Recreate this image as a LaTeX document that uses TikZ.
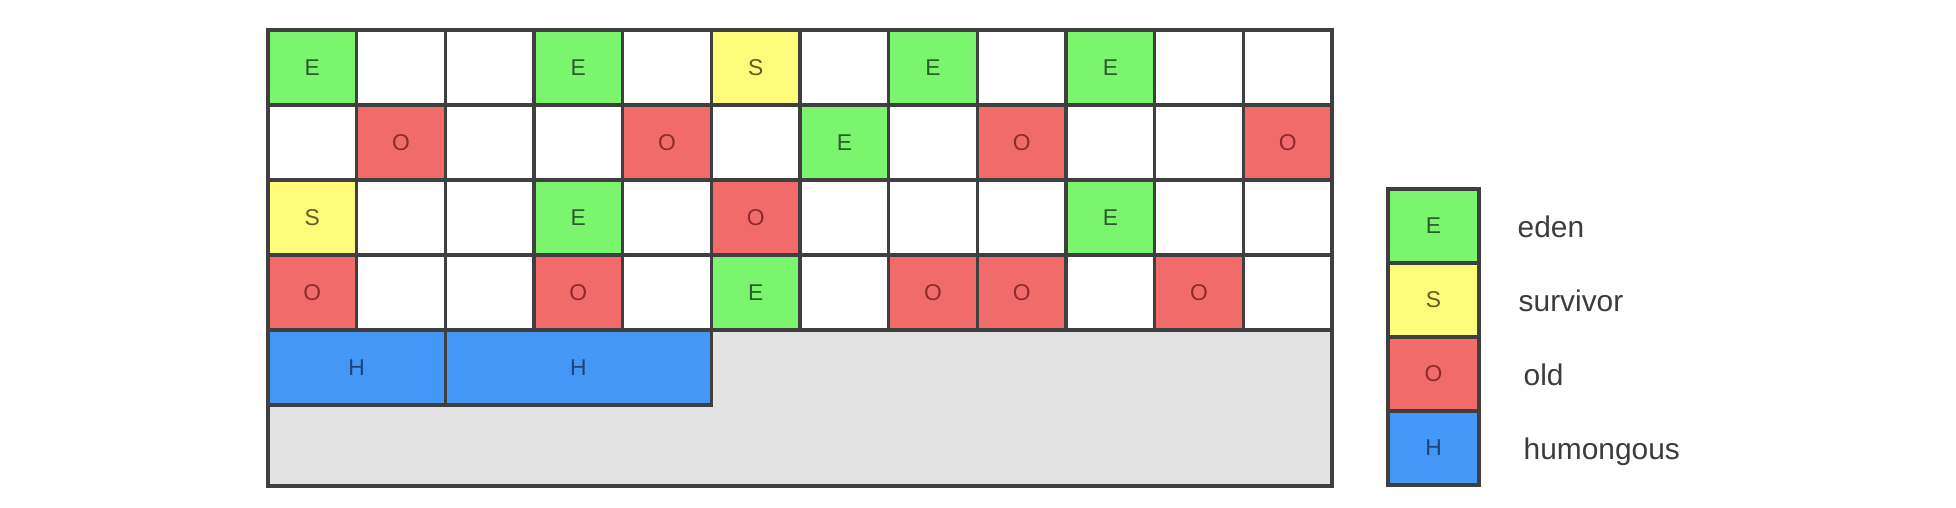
\documentclass[tikz,border=0pt]{standalone}
\usepackage{fontspec}
\setmainfont{Liberation Sans}
\usetikzlibrary{positioning}

\definecolor{gridline}{HTML}{3F3F3F}
\definecolor{edenfill}{HTML}{7CF56E}
\definecolor{edentext}{HTML}{2A5E2A}
\definecolor{survfill}{HTML}{FFFB7A}
\definecolor{survtext}{HTML}{5E5D24}
\definecolor{oldfill}{HTML}{F26B6B}
\definecolor{oldtext}{HTML}{8E2A2E}
\definecolor{humfill}{HTML}{4597F5}
\definecolor{humtext}{HTML}{1A4580}
\definecolor{sparefill}{HTML}{E3E3E3}
\definecolor{keytext}{HTML}{3C3C3C}

\tikzset{
  cell/.style={draw=gridline, line width=0.9pt, fill=white, inner sep=0pt, outer sep=0pt,
    minimum width=8.867mm, minimum height=7.5mm,
    font=\fontsize{6.5}{6.5}\selectfont},
  eden/.style={cell, fill=edenfill, text=edentext},
  surv/.style={cell, fill=survfill, text=survtext},
  old/.style={cell, fill=oldfill, text=oldtext},
  hum/.style={cell, fill=humfill, text=humtext},
  keybox/.style={cell, minimum width=9.1mm, minimum height=7.4mm},
  keylabel/.style={inner sep=0pt, text=keytext, text height=1.5ex, text depth=0.25ex,
    font=\fontsize{8.5}{8.5}\selectfont}
}

\begin{document}
\begin{tikzpicture}[x=0.1mm,y=-0.1mm]
    \useasboundingbox (0,0) rectangle (1956,508);

    % free space below the regions
    \draw[draw=gridline, line width=0.9pt, fill=sparefill] (268,330) rectangle (1332,486);

    % empty regions
    \foreach \r in {1,...,4}
      \foreach \c in {1,...,12}
        \node[cell] (c\r-\c) at ({268+88.67*(\c-0.5)},{30+75*(\r-0.5)}) {};

    % row 1
    \node[eden] (e1-1)  at (c1-1)  {E};
    \node[eden] (e1-4)  at (c1-4)  {E};
    \node[surv] (s1-6)  at (c1-6)  {S};
    \node[eden] (e1-8)  at (c1-8)  {E};
    \node[eden] (e1-10) at (c1-10) {E};

    % row 2
    \node[old]  (o2-2)  at (c2-2)  {O};
    \node[old]  (o2-5)  at (c2-5)  {O};
    \node[eden] (e2-7)  at (c2-7)  {E};
    \node[old]  (o2-9)  at (c2-9)  {O};
    \node[old]  (o2-12) at (c2-12) {O};

    % row 3
    \node[surv] (s3-1)  at (c3-1)  {S};
    \node[eden] (e3-4)  at (c3-4)  {E};
    \node[old]  (o3-6)  at (c3-6)  {O};
    \node[eden] (e3-10) at (c3-10) {E};

    % row 4
    \node[old]  (o4-1)  at (c4-1)  {O};
    \node[old]  (o4-4)  at (c4-4)  {O};
    \node[eden] (e4-6)  at (c4-6)  {E};
    \node[old]  (o4-8)  at (c4-8)  {O};
    \node[old]  (o4-9)  at (c4-9)  {O};
    \node[old]  (o4-11) at (c4-11) {O};

    % humongous regions
    \node[hum, minimum width=17.73mm] (h1) at (356.7,367.5) {H};
    \node[hum, minimum width=26.6mm]  (h2) at (578.3,367.5) {H};

    % Legend
    \node[keybox, fill=edenfill, text=edentext] (keyE) at (1433.5,226) {E};
    \node[keybox, fill=survfill, text=survtext, below=0pt of keyE] (keyS) {S};
    \node[keybox, fill=oldfill, text=oldtext, below=0pt of keyS]   (keyO) {O};
    \node[keybox, fill=humfill, text=humtext, below=0pt of keyO]   (keyH) {H};

    \node[keylabel, right=3.8mm of keyE]             {eden};
    \node[keylabel, right=3.9mm of keyS]             {survivor};
    \node[keylabel, right=4.4mm of keyO]             {old};
    \node[keylabel, right=4.4mm of keyH]             {humongous};
\end{tikzpicture}
\end{document}
